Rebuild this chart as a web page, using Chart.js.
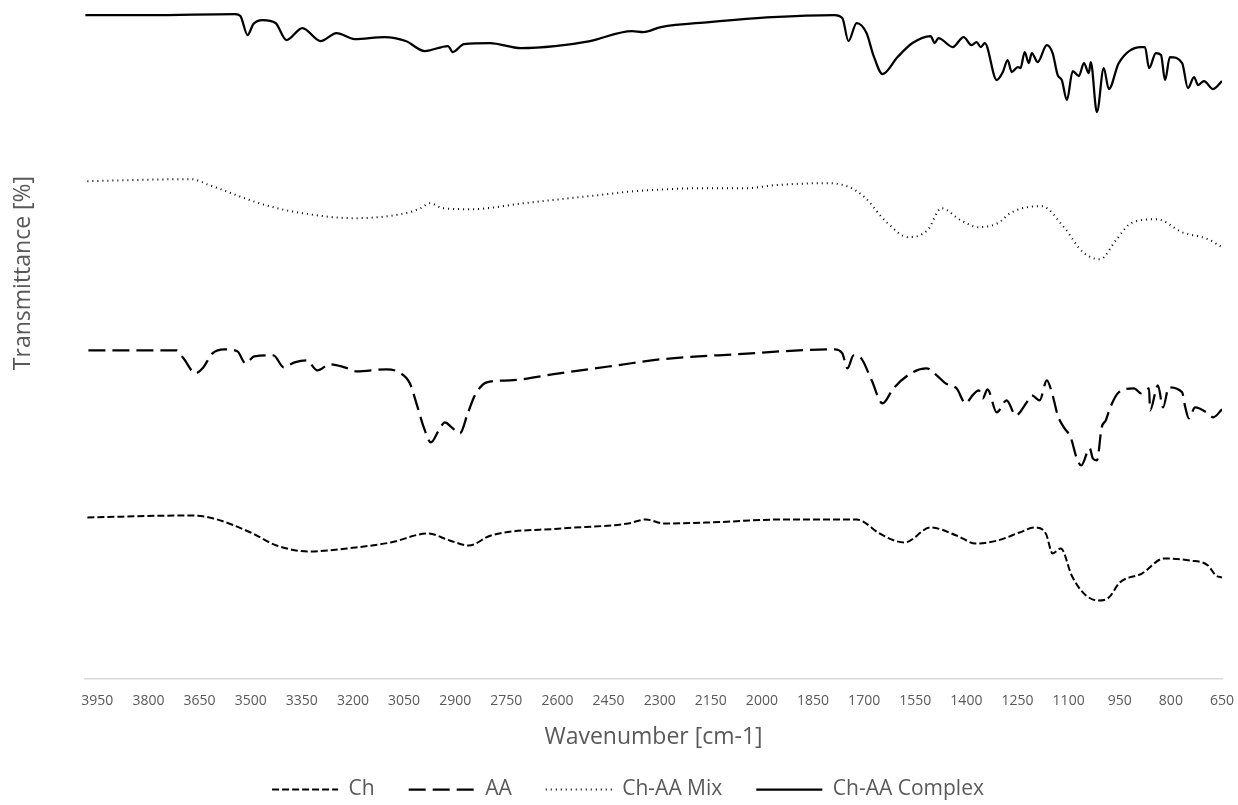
<!DOCTYPE html>
<html>
<head>
<meta charset="utf-8">
<script src="https://cdn.jsdelivr.net/npm/chart.js@4.4.0/dist/chart.umd.min.js"></script>
<style>
  body { margin: 0; background: #fff; }
</style>
</head>
<body>
<canvas id="ftirChart" width="1238" height="805"></canvas>
<script>
// wavenumber tick labels (axis runs high -> low)
const xTicks = [3950, 3800, 3650, 3500, 3350, 3200, 3050, 2900, 2750, 2600, 2450,
  2300, 2150, 2000, 1850, 1700, 1550, 1400, 1250, 1100, 950, 800, 650];

const seriesNames = ["Ch", "AA", "Ch-AA Mix", "Ch-AA Complex"];

// Ch (chitosan), offset spectrum
const chWn = [3979, 3674, 3609, 3500, 3424, 3327, 3218, 3089, 2980, 2916, 2860, 2795, 2589, 2392,
  2340, 2287, 2154, 1937, 1722, 1699, 1655, 1581, 1505, 1429, 1373, 1308, 1244, 1199, 1167, 1147,
  1123, 1091, 1058, 1014, 982, 950, 885, 820, 744, 691, 668, 650];
const chT = [32.2, 32.6, 32.0, 29.2, 26.6, 25.4, 26.0, 27.2, 29.0, 27.6, 26.6, 28.6, 30.0, 31.0,
  31.8, 31.0, 31.2, 31.8, 31.8, 31.2, 29.0, 27.2, 30.2, 28.6, 27.0, 27.6, 29.2, 30.2, 29.0, 25.0,
  26.0, 20.6, 17.2, 15.6, 16.2, 19.2, 21.0, 24.0, 23.6, 22.6, 20.6, 20.2];

// AA
const aaWn = [3976, 3718, 3697, 3662, 3641, 3612, 3577, 3539, 3515, 3489, 3433, 3403, 3371, 3336,
  3304, 3268, 3224, 3189, 3101, 3065, 3033, 3010, 2992, 2971, 2948, 2930, 2910, 2886, 2863, 2842,
  2807, 2739, 2595, 2425, 2296, 2078, 1787, 1764, 1749, 1731, 1711, 1678, 1646, 1614, 1558, 1517,
  1487, 1461, 1429, 1402, 1382, 1364, 1352, 1338, 1311, 1282, 1255, 1223, 1208, 1185, 1164, 1147,
  1132, 1114, 1094, 1076, 1063, 1038, 1029, 1017, 1003, 991, 979, 953, 908, 888, 864, 861, 838,
  823, 806, 767, 759, 747, 729, 691, 676, 650];
const aaT = [65.6, 65.6, 64.0, 61.0, 62.0, 65.0, 65.8, 65.4, 63.0, 64.4, 64.6, 62.2, 63.2, 63.6,
  61.6, 62.8, 62.2, 61.4, 61.8, 61.2, 59.0, 54.2, 50.2, 47.2, 49.6, 51.2, 50.2, 49.0, 53.0, 56.6,
  59.2, 59.6, 61.0, 62.6, 63.8, 64.8, 65.8, 65.0, 62.0, 64.6, 64.2, 59.6, 55.0, 58.0, 61.2, 62.0,
  60.6, 59.0, 58.0, 55.0, 56.6, 57.6, 56.0, 57.8, 53.2, 55.6, 52.6, 55.2, 56.6, 55.6, 59.6, 56.6,
  52.6, 50.2, 48.2, 44.0, 42.6, 46.0, 44.0, 43.6, 50.2, 51.6, 54.0, 57.2, 58.0, 57.0, 58.0, 53.6, 58.6,
  54.2, 58.2, 57.2, 54.6, 52.0, 54.2, 53.0, 52.2, 53.8];

// Ch-AA physical mix
const mixWn = [3979, 3674, 3621, 3456, 3348, 3198, 3045, 3001, 2974, 2936, 2851, 2698, 2481, 2372,
  2154, 2046, 1961, 1808, 1743, 1699, 1634, 1570, 1514, 1473, 1417, 1364, 1308, 1267, 1179, 1114,
  1058, 1008, 961, 917, 841, 767, 691, 650];
const mixT = [99.4, 99.8, 98.6, 94.6, 93.0, 92.0, 93.0, 94.0, 95.0, 94.0, 93.8, 95.0, 96.6, 97.4,
  98.0, 98.0, 98.6, 99.0, 98.2, 96.2, 91.2, 88.2, 89.6, 94.0, 91.6, 90.2, 91.0, 93.2, 94.4, 90.2,
  85.2, 83.8, 87.6, 91.0, 91.8, 89.2, 87.8, 86.2];

// Ch-AA complex
const complexWn = [3985, 3794, 3545, 3530, 3509, 3492, 3465, 3427, 3395, 3348, 3295, 3248, 3195,
  3107, 3045, 2989, 2921, 2907, 2874, 2798, 2707, 2607, 2504, 2381, 2348, 2296, 2154, 1969, 1787,
  1764, 1746, 1722, 1693, 1673, 1646, 1602, 1558, 1505, 1493, 1482, 1440, 1408, 1385, 1370, 1358,
  1346, 1311, 1293, 1279, 1267, 1249, 1241, 1229, 1217, 1208, 1191, 1164, 1147, 1132, 1120, 1105,
  1088, 1070, 1055, 1041, 1035, 1017, 997, 982, 953, 888, 876, 864, 844, 829, 817, 803, 767, 750,
  732, 720, 703, 676, 650];
const complexT = [132.6, 132.6, 132.8, 132.4, 128.6, 130.8, 131.6, 131.0, 127.6, 130.0, 127.4, 129.0,
  127.8, 128.2, 127.4, 125.4, 126.4, 125.2, 126.8, 127.0, 126.0, 126.4, 127.4, 129.4, 129.2, 130.2,
  131.2, 132.2, 132.6, 132.0, 127.4, 131.0, 129.0, 124.6, 120.8, 124.2, 127.0, 128.4, 127.0, 128.0,
  126.2, 128.2, 126.6, 127.2, 126.2, 127.0, 119.6, 121.2, 123.6, 121.2, 122.2, 122.0, 125.2, 123.0,
  125.0, 123.2, 126.6, 125.0, 120.6, 119.6, 115.6, 121.4, 120.4, 123.0, 121.0, 123.2, 113.2, 122.0,
  117.8, 123.0, 126.2, 126.2, 122.0, 125.0, 124.6, 119.6, 124.2, 123.0, 118.0, 120.2, 118.6, 119.4,
  117.8, 119.4];


// pair wavenumbers with values
function toPoints(wn, t) {
  return wn.map((x, i) => ({ x: x, y: t[i] }));
}

const textColor = '#595959';
const fontName = "'Open Sans', sans-serif";

// y title sits a bit above the plot centre in the original, draw it by hand
const yTitle = {
  id: 'yTitle',
  afterDraw(chart) {
    const c = chart.ctx;
    c.save();
    c.translate(23, 273);
    c.rotate(-Math.PI / 2);
    c.font = "23px " + fontName;
    c.fillStyle = textColor;
    c.textAlign = 'center';
    c.textBaseline = 'middle';
    c.fillText('Transmittance [%]', 0, 0);
    c.restore();
  }
};

const ctx = document.getElementById('ftirChart').getContext('2d');

new Chart(ctx, {
  type: 'line',
  data: {
    datasets: [
      {
        label: seriesNames[0],
        data: toPoints(chWn, chT),
        borderColor: '#000',
        borderWidth: 2,
        borderDash: [7, 3]
      },
      {
        label: seriesNames[1],
        data: toPoints(aaWn, aaT),
        borderColor: '#000',
        borderWidth: 2.25,
        borderDash: [17, 7]
      },
      {
        label: seriesNames[2],
        data: toPoints(mixWn, mixT),
        borderColor: '#000',
        borderWidth: 2,
        borderDash: [1, 4]
      },
      {
        label: seriesNames[3],
        data: toPoints(complexWn, complexT),
        borderColor: '#000',
        borderWidth: 2.25
      }
    ]
  },
  options: {
    responsive: false,
    animation: false,
    layout: {
      padding: { top: 3, left: 34, right: 16, bottom: -5 }
    },
    elements: {
      point: { radius: 0 },
      line: { cubicInterpolationMode: 'monotone', backgroundColor: 'transparent', fill: false }
    },
    scales: {
      x: {
        type: 'linear',
        reverse: true,
        min: 650,
        max: 3986,
        afterBuildTicks: (scale) => {
          scale.ticks = xTicks.map(v => ({ value: v }));
        },
        afterFit: (scale) => {
          scale.paddingLeft = 0;
          scale.paddingRight = 0;
        },
        grid: { display: false, drawTicks: false },
        border: { display: true, color: '#d9d9d9', width: 1.5 },
        ticks: {
          autoSkip: false,
          maxRotation: 0,
          padding: 14,
          color: textColor,
          font: { family: fontName, size: 14 },
          callback: (v) => String(v)
        },
        title: {
          display: true,
          text: 'Wavenumber [cm-1]',
          color: textColor,
          font: { family: fontName, size: 23 },
          padding: { top: 0, bottom: -6 }
        }
      },
      y: {
        min: 0,
        max: 135,
        // empty strip that holds the plot 85px from the left edge
        afterFit: (scale) => {
          scale.width = 51;
        },
        grid: { display: false, drawTicks: false },
        border: { display: false },
        ticks: { display: false }
      }
    },
    plugins: {
      legend: {
        position: 'bottom',
        labels: {
          usePointStyle: true,
          pointStyle: 'line',
          pointStyleWidth: 66,
          padding: 34,
          color: textColor,
          font: { family: fontName, size: 21 },
          // legend samples should show each dataset's dash pattern
          generateLabels: (chart) => {
            const items = Chart.defaults.plugins.legend.labels.generateLabels(chart);
            items.forEach((item) => {
              const ds = chart.data.datasets[item.datasetIndex];
              item.lineDash = ds.borderDash || [];
              item.lineWidth = ds.borderWidth;
              item.strokeStyle = ds.borderColor;
            });
            return items;
          }
        }
      },
      tooltip: { enabled: false }
    }
  },
  plugins: [yTitle]
});
</script>
</body>
</html>
